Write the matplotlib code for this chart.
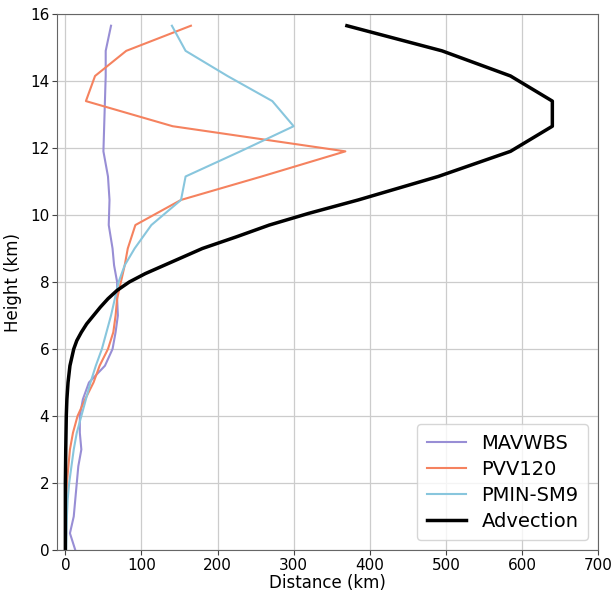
import matplotlib
matplotlib.use("Agg")
import matplotlib.pyplot as plt

heights = [0.0, 0.5, 1.0, 1.5, 2.0, 2.5, 3.0, 3.5, 4.0, 4.5, 5.0, 5.5, 6.0, 6.5,
           7.0, 7.5, 8.0, 8.5, 9.0, 9.7, 10.45, 11.15, 11.9, 12.65, 13.4, 14.15,
           14.9, 15.65]

mavwbs = [13, 6, 11, 13, 15, 17, 21, 19, 19, 23, 31, 52, 62, 66,
          69, 68, 68, 64, 62, 57, 58, 56, 50, 51, 52, 53, 53, 60]
pvv120 = [0, 1, 1, 1.5, 2, 4, 6, 10, 16, 26, 37, 45, 56, 63,
          66, 68, 73, 78, 82, 92, 152, 258, 368, 141, 27, 39, 80, 165]
pmin_sm9 = [1, 1.5, 2, 3, 5, 8, 11, 15, 21, 27, 33, 40, 48, 54,
            60, 65, 70, 78, 91, 113, 152, 158, 230, 300, 272, 213, 158, 140]

advection_heights = [0.0, 1.0, 2.0, 3.0, 4.0, 4.5, 5.0, 5.5, 6.0, 6.25, 6.5, 6.75,
                     7.0, 7.25, 7.5, 7.75, 8.0, 8.25, 8.5, 8.75, 9.0, 9.35, 9.7,
                     10.05, 10.45, 11.15, 11.9, 12.65, 13.4, 14.15, 14.9, 15.65]
advection = [0, 0, 0, 0.5, 1.2, 2, 3.5, 6, 11, 15, 21, 28,
             37, 46, 56, 68, 84, 105, 130, 155, 180, 225, 268,
             320, 385, 490, 585, 640, 640, 585, 495, 370]

labels = ["MAVWBS", "PVV120", "PMIN-SM9", "Advection"]
colors = ["#988ED5", "#F5825F", "#88C6DD", "black"]

fig = plt.figure(figsize=(6.14, 5.92), dpi=100)
ax = fig.add_axes([57/614, 1 - 550/592, (598-57)/614, (550-14)/592])

ax.plot(mavwbs, heights, color=colors[0], lw=1.5, label=labels[0])
ax.plot(pvv120, heights, color=colors[1], lw=1.5, label=labels[1])
ax.plot(pmin_sm9, heights, color=colors[2], lw=1.5, label=labels[2])
ax.plot(advection, advection_heights, color=colors[3], lw=2.5, label=labels[3])

ax.set_xlim(-11, 700)
ax.set_ylim(0, 16)
ax.set_xticks([0, 100, 200, 300, 400, 500, 600, 700])
ax.set_yticks([0, 2, 4, 6, 8, 10, 12, 14, 16])
ax.grid(True, color="#cccccc", lw=0.9)
ax.set_axisbelow(True)
ax.tick_params(labelsize=11, color="#444444", pad=2)
for s in ax.spines.values():
    s.set_color("#666666")
ax.set_xlabel("Distance (km)", fontsize=12, labelpad=1)
ax.set_ylabel("Height (km)", fontsize=12, labelpad=6)
ax.legend(loc="lower right", fontsize=14, handlelength=2.0, borderpad=0.5,
          labelspacing=0.35, framealpha=0.8)

fig.savefig("out.png", dpi=100)
